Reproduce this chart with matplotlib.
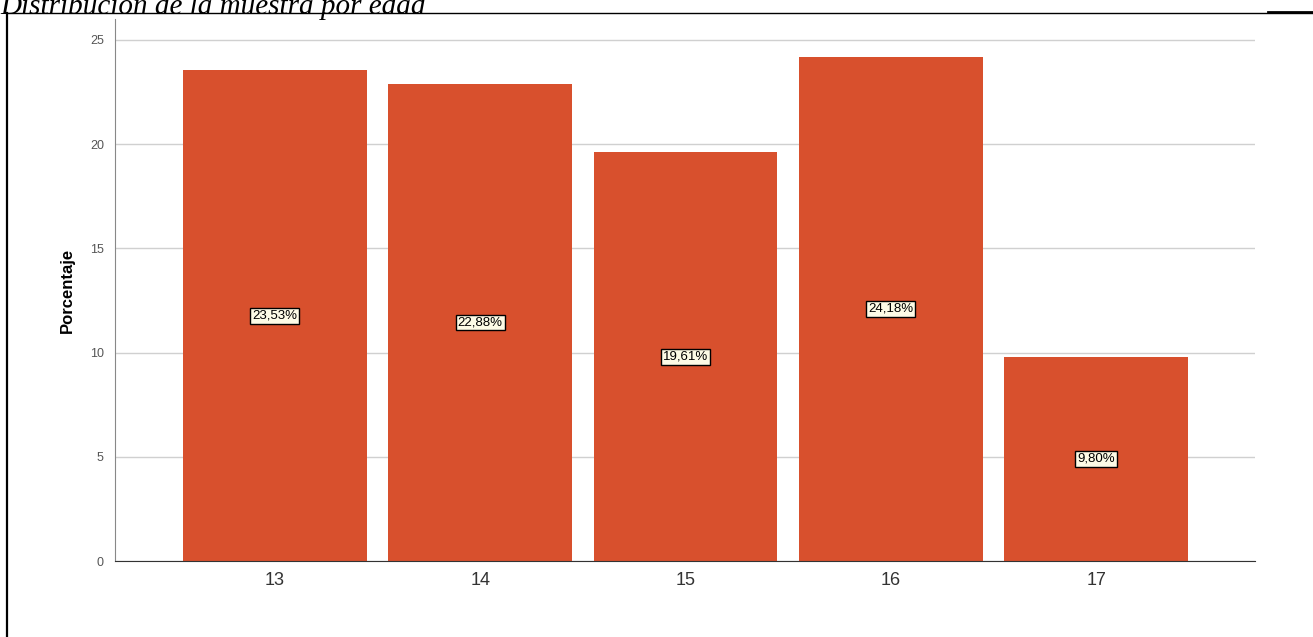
import numpy as np
import matplotlib.pyplot as plt
from matplotlib.lines import Line2D

edades = ["13", "14", "15", "16", "17"]
porcentaje = [23.53, 22.88, 19.61, 24.18, 9.80]
etiquetas = ["23,53%", "22,88%", "19,61%", "24,18%", "9,80%"]

plt.rcParams["font.family"] = ["Liberation Sans", "DejaVu Sans"]

W, H = 1313, 637
fig = plt.figure(figsize=(W / 100, H / 100), dpi=100)

# marco de la tabla
fig.add_artist(Line2D([7 / W, 7 / W], [0, 1 - 13 / H], transform=fig.transFigure, color="black", lw=1.6))
fig.add_artist(Line2D([7 / W, 1], [1 - 13 / H, 1 - 13 / H], transform=fig.transFigure, color="black", lw=1.0))
fig.add_artist(Line2D([1268 / W, 1], [1 - 12 / H, 1 - 12 / H], transform=fig.transFigure, color="black", lw=2.0))

fig.text(0.0, 1 - 14 / H, "Distribución de la muestra por edad", family="Liberation Serif",
         style="italic", fontsize=21, va="baseline", ha="left")

ax = fig.add_axes([115 / W, 1 - 561 / H, (1255 - 115) / W, (561 - 19) / H])
x = np.arange(len(edades))
ax.bar(x, porcentaje, width=0.895, color="#D8502D", zorder=2)
ax.set_xlim(-0.779, 4.774)
ax.set_ylim(0, 26)
ax.set_yticks([0, 5, 10, 15, 20, 25])
ax.set_xticks(x)
ax.set_xticklabels(edades, fontsize=13, color="#333333")
ax.tick_params(axis="y", length=0, labelsize=9, labelcolor="#555555", pad=8)
ax.tick_params(axis="x", length=0, pad=8)
ax.yaxis.grid(True, color="#d0d0d0", lw=1.0, zorder=0)
for s in ["top", "right"]:
    ax.spines[s].set_visible(False)
ax.spines["left"].set_color("#888888")
ax.spines["bottom"].set_color("#333333")
ax.set_ylabel("Porcentaje", fontsize=12, fontweight="bold", labelpad=11)

for xi, v, t in zip(x, porcentaje, etiquetas):
    ax.text(xi, v / 2, t, ha="center", va="center", fontsize=9.5, zorder=3,
            bbox=dict(boxstyle="square,pad=0.15", fc="#fdfbe6", ec="black", lw=1.0))

fig.savefig("out.png", dpi=100)
